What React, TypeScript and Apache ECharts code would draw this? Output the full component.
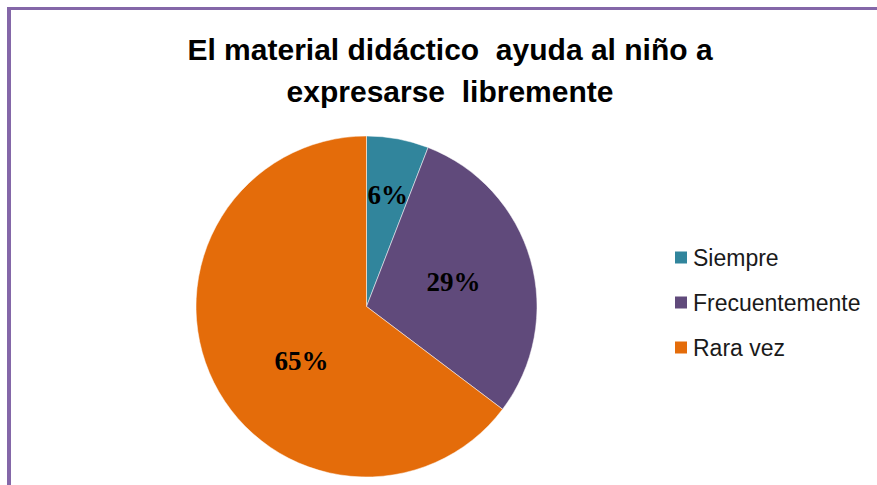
import React, { useEffect, useRef } from "react";
import * as echarts from "echarts";

const titleLines = ["El material didáctico  ayuda al niño a", "expresarse  libremente"];
const categories = ["Siempre", "Frecuentemente", "Rara vez"];
const counts = [2, 10, 22];
const sliceColors = ["#31859C", "#604A7B", "#E46C0A"];
const labelShift = [
  [5, -25],
  [2, 0],
  [14, 15],
];

export default function App() {
  const ref = useRef<HTMLDivElement>(null);
  useEffect(() => {
    if (!ref.current) return;
    const chart = echarts.init(ref.current, null, { renderer: "svg" });
    chart.setOption({
      animation: false,
      backgroundColor: "#ffffff",
      title: {
        text: titleLines.join("\n"),
        left: 445,
        top: 23,
        textAlign: "center",
        textStyle: {
          fontFamily: "'Liberation Sans', Arial, sans-serif",
          fontWeight: "bold",
          fontSize: 30,
          lineHeight: 42,
          color: "#000000",
        },
      },
      legend: {
        orient: "vertical",
        left: 668,
        top: 241,
        icon: "rect",
        itemWidth: 14,
        itemHeight: 14,
        itemGap: 22,
        data: categories,
        textStyle: {
          fontFamily: "'Liberation Sans', Arial, sans-serif",
          fontSize: 23,
          lineHeight: 23,
          color: "#1a1a1a",
        },
      },
      graphic: [
        { type: "rect", shape: { x: 7, y: 7, width: 870, height: 3 }, style: { fill: "#8467A8" } },
        { type: "rect", shape: { x: 7, y: 7, width: 4, height: 478 }, style: { fill: "#8467A8" } },
      ],
      series: [
        {
          type: "pie",
          center: [366.5, 306.5],
          radius: 170.5,
          startAngle: 90,
          clockwise: true,
          percentPrecision: 0,
          color: sliceColors,
          itemStyle: { borderColor: "#ffffff", borderWidth: 0.5 },
          label: {
            show: true,
            position: "inside",
            formatter: "{d}%",
            fontFamily: "'Liberation Serif', 'Times New Roman', serif",
            fontWeight: "bold",
            fontSize: 27,
            color: "#000000",
          },
          labelLine: { show: false },
          labelLayout: (params: any) => ({
            dx: labelShift[params.dataIndex][0],
            dy: labelShift[params.dataIndex][1],
          }),
          data: categories.map((name, i) => ({ name, value: counts[i] })),
        },
      ],
    });
    return () => chart.dispose();
  }, []);
  return (
    <div
      ref={ref}
      style={{ position: "absolute", left: 0, top: 0, width: 877, height: 485 }}
    />
  );
}
